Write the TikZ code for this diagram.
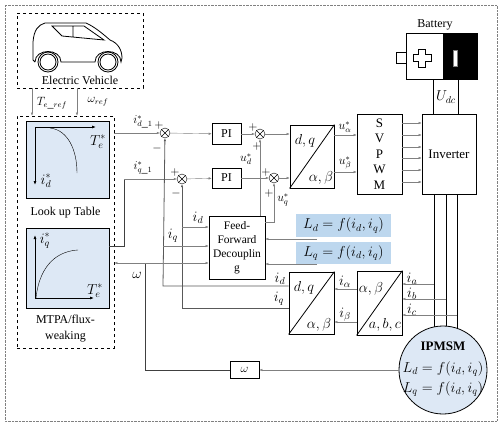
\documentclass[tikz,border=0pt]{standalone}
\usepackage{fontspec}
\setmainfont{Liberation Serif}
\usetikzlibrary{arrows.meta,calc,backgrounds}
\definecolor{tabblue}{RGB}{221,232,245}
\definecolor{lblue}{RGB}{189,215,238}
\begin{document}
\begin{tikzpicture}[x=1pt,y=-1pt,inner sep=0pt,
		font=\fontsize{12}{14}\selectfont,
		blockstyle/.style={draw, thick},
		sumstyle/.style={draw, circle, minimum size=10pt,
			path picture={\draw (path picture bounding box.north west) -- (path picture bounding box.south east)
				(path picture bounding box.north east) -- (path picture bounding box.south west);}},
		sigstyle/.style={gray, -{Latex[length=3pt,width=2.5pt]}},
		fbstyle/.style={black!65, thick, -{Latex[length=3pt,width=2.5pt]}},
		mathbig/.style={font=\fontsize{14}{16}\selectfont}]

		\useasboundingbox (0,0) rectangle (499,423);
		\draw [gray, densely dotted] (5,5) rectangle (497,421);

		% vehicle
		\node [blockstyle, dashed, minimum width=126pt, minimum height=75pt] (ev) at (80,50.5) {};
		\node (evtext) at (80,80) {Electric Vehicle};
		\draw [thick] (35,62) -- (33,60) -- (33,42) .. controls (34,30) and (38,25) .. (45,23) -- (86,23)
			.. controls (95,27) and (103,34) .. (110,40) .. controls (118,43) and (122,50) .. (122,58) -- (121,62)
			.. controls (121,48) and (95,48) .. (95,62) -- (61,62) .. controls (61,48) and (35,48) .. (35,62);
		\draw [thick] (52,26) -- (84,26) -- (104,40) -- (62,36) -- cycle (73,26) -- (73,37);
		\draw [thick] (48,62) circle (10) (48,62) circle (8) (108,62) circle (10) (108,62) circle (8);

		% look up tables
		\node [blockstyle, dashed, minimum width=97pt, minimum height=232pt] (lut) at (65.5,232) {};
		\node [blockstyle, fill=tabblue, minimum width=83pt, minimum height=77pt] (tab1) at (67.5,159.5) {};
		\node [blockstyle, fill=tabblue, minimum width=83pt, minimum height=80pt] (tab2) at (67.5,268) {};
		\node (luttext) at (65.5,213) {Look up Table};
		\node [align=center, font=\fontsize{12}{16}\selectfont] (mtpatext) at (65.5,329) {MTPA/flux-\\weaking};
		\draw [thick, -{Latex[length=4pt,width=3pt]}] (35,127) -- (96,127);
		\draw [thick, -{Latex[length=4pt,width=3pt]}] (35,127) -- (35,185);
		\draw (50,128) .. controls (68,130) and (77,150) .. (77,173);
		\node [mathbig] at (98,142) {$T_e^*$};
		\node [mathbig] at (46,181) {$i_d^*$};
		\draw [thick, -{Latex[length=4pt,width=3pt]}] (35,298) -- (35,235);
		\draw [thick, -{Latex[length=4pt,width=3pt]}] (35,298) -- (94,298);
		\draw (36,298) .. controls (40,262) and (60,251) .. (78,250);
		\node [mathbig] at (45,241) {$i_q^*$};
		\node [mathbig] at (95,291) {$T_e^*$};

		\draw [sigstyle] (ev.south -| 32,0) -- (lut.north -| 32,0);
		\draw [sigstyle] (ev.south -| 77,0) -- (lut.north -| 77,0);
		\node at (52,103) {$T_{e\_ref}$};
		\node at (98,102) {$\omega_{ref}$};

		% current loops
		\node [sumstyle] (sum1) at (165,133) {};
		\node [sumstyle] (sum2) at (182,179) {};
		\node [sumstyle] (sum3) at (260,134) {};
		\node [sumstyle] (sum4) at (274,178) {};
		\node [blockstyle, minimum width=29pt, minimum height=21pt] (pi1) at (226.5,134) {PI};
		\node [blockstyle, minimum width=29pt, minimum height=20pt] (pi2) at (226.5,178) {PI};

		\draw [sigstyle] (lut.east |- sum1) -- (sum1);
		\draw [black!75, thick] (tab2.east |- 0,246) -- (124,246) -- (124,179);
		\draw [sigstyle] (124,179) -- (sum2);
		\node at (143,122) {$i^*_{d\_1}$};
		\node at (143,168) {$i^*_{q\_1}$};
		\draw [sigstyle] (sum1) -- (pi1);
		\draw [sigstyle] (sum2) -- (pi2);
		\draw [sigstyle] (pi1) -- (sum3);
		\draw [sigstyle] (pi2) -- (sum4);
		\node at (159,125) {$+$};
		\node at (157,148) {$-$};
		\node at (175,172) {$+$};
		\node at (176,193) {$-$};
		\node at (253,127) {$+$};
		\node at (257,146) {$+$};
		\node at (246,159) {$u_d^*$};
		\node at (266,172) {$+$};
		\node at (269,193) {$+$};
		\node at (283,200) {$u_q^*$};

		% inverse Park, SVPWM, inverter
		\node [blockstyle, minimum width=44pt, minimum height=63pt] (dqab) at (312,156.5) {};
		\draw [thick] (dqab.south west) -- (dqab.north east);
		\node [mathbig] at (305,141) {$d,q$};
		\node [mathbig] at (321,178) {$\alpha,\beta$};
		\draw [sigstyle] (sum3) -- (dqab.west |- sum3);
		\draw [sigstyle] (sum4) -- (dqab.west |- sum4);

		\node [blockstyle, minimum width=45pt, minimum height=80pt, align=center,
			font=\fontsize{13}{15.5}\selectfont] (svpwm) at (379.5,154) {S\\V\\P\\W\\M};
		\draw [sigstyle] (dqab.east |- 0,135) -- (svpwm.west |- 0,135);
		\draw [sigstyle] (dqab.east |- 0,172) -- (svpwm.west |- 0,172);
		\node at (345,127) {$u_\alpha^*$};
		\node at (345,163) {$u_\beta^*$};

		\node [blockstyle, minimum width=54pt, minimum height=80pt, font=\fontsize{13}{15}\selectfont] (inv) at (449,154) {Inverter};
		\foreach \yy in {123,135,147,158,170,182}
			\draw [sigstyle] (svpwm.east |- 0,\yy) -- (inv.west |- 0,\yy);

		% battery
		\node [blockstyle, fill=white, minimum width=37pt, minimum height=46pt] (batp) at (424.5,56) {};
		\node [blockstyle, fill=black, minimum width=34pt, minimum height=46pt] (batn) at (460,56) {};
		\draw [thick] (batp.west |- 0,52) -- (396,52) -- (396,63) -- (batp.west |- 0,63);
		\draw [thick, fill=white] (418.5,49) -- (425.5,49) -- (425.5,54.5) -- (431,54.5) -- (431,61.5) -- (425.5,61.5)
			-- (425.5,67) -- (418.5,67) -- (418.5,61.5) -- (413,61.5) -- (413,54.5) -- (418.5,54.5) -- cycle;
		\draw [fill=white, draw=gray] (453,50) rectangle (457,66);
		\node (battext) at (435,25) {Battery};
		\draw [thick] (batp.south -| 433,0) -- (inv.north -| 433,0);
		\draw [thick] (batn.south -| 458,0) -- (inv.north -| 458,0);
		\node [mathbig] at (446,97) {$U_{dc}$};

		% motor
		\node [draw, thick, circle, fill=tabblue, minimum size=88pt] (motor) at (443,370) {};
		\node [font=\fontsize{13}{15}\selectfont] at (443,346) {\textbf{IPMSM}};
		\node [mathbig] at (443,369) {$L_d = f(i_d,i_q)$};
		\node [mathbig] at (443,389) {$L_q = f(i_d,i_q)$};
		\begin{scope}[on background layer]
			\foreach \xx in {434,446,457}
				\draw [thick] (inv.south -| \xx,0) -- (motor.center -| \xx,0);
		\end{scope}

		% Clarke and Park
		\node [blockstyle, minimum width=45pt, minimum height=64pt] (abcab) at (379.5,303) {};
		\draw [thick] (abcab.south west) -- (abcab.north east);
		\node [mathbig] at (371,289) {$\alpha,\beta$};
		\node [mathbig] at (385,325) {$a,b,c$};
		\draw [sigstyle] (434,284) -- (abcab.east |- 0,284);
		\draw [sigstyle] (446,299) -- (abcab.east |- 0,299);
		\draw [sigstyle] (457,315) -- (abcab.east |- 0,315);
		\node [mathbig] at (412,279) {$i_a$};
		\node [mathbig] at (412,294) {$i_b$};
		\node [mathbig] at (412,310) {$i_c$};

		\node [blockstyle, minimum width=45pt, minimum height=62pt] (abdq) at (311.5,303) {};
		\draw [thick] (abdq.south west) -- (abdq.north east);
		\node [mathbig] at (304,288) {$d,q$};
		\node [mathbig] at (319,325) {$\alpha,\beta$};
		\draw [sigstyle] (abcab.west |- 0,289) -- (abdq.east |- 0,289);
		\draw [sigstyle] (abcab.west |- 0,322) -- (abdq.east |- 0,322);
		\node [mathbig] at (345,282) {$i_\alpha$};
		\node [mathbig] at (345,315) {$i_\beta$};

		\draw [fbstyle] (abdq.west |- 0,286) -- (163,286) -- (sum1);
		\draw [fbstyle] (abdq.west |- 0,308) -- (182,308) -- (sum2);
		\node [mathbig] at (280,279) {$i_d$};
		\node [mathbig] at (279,299) {$i_q$};

		% decoupling
		\node [blockstyle, minimum width=56pt, minimum height=63pt, align=center,
			font=\fontsize{11.5}{14}\selectfont] (ff) at (237,247.5) {Feed-\\Forward\\Decouplin\\g};
		\draw [sigstyle] (182,227) -- (ff.west |- 0,227);
		\draw [sigstyle] (163,246) -- (ff.west |- 0,246);
		\node [mathbig] at (198,218) {$i_d$};
		\node [mathbig] at (173,236) {$i_q$};
		\draw [sigstyle] (ff.north -| 260,0) -- (sum3);
		\draw [sigstyle] (ff.east |- 0,222) -- (274,222) -- (sum4);

		\node [fill=lblue, minimum width=95pt, minimum height=23pt, font=\fontsize{14.5}{16}\selectfont] (ld) at (343.5,225.5) {$L_d = f(i_d,i_q)$};
		\node [fill=lblue, minimum width=95pt, minimum height=22pt, font=\fontsize{14.5}{16}\selectfont] (lq) at (343.5,253) {$L_q = f(i_d,i_q)$};
		\draw [sigstyle] (317,239) -- (ff.east |- 0,239);
		\draw [sigstyle] (317,264) -- (ff.east |- 0,264);

		% speed feedback
		\node [blockstyle, minimum width=29pt, minimum height=17pt] (wbox) at (244.5,370) {$\omega$};
		\draw [sigstyle] (motor.west) -- (wbox.east);
		\draw [black!75, thick] (wbox.west) -- (145,370) -- (145,263);
		\draw [gray, {Latex[length=3pt,width=2.5pt]}-{Latex[length=3pt,width=2.5pt]}] (lut.east |- 0,263) -- (ff.west |- 0,263);
		\node [mathbig] at (137,275) {$\omega$};
		\end{tikzpicture}
\end{document}
